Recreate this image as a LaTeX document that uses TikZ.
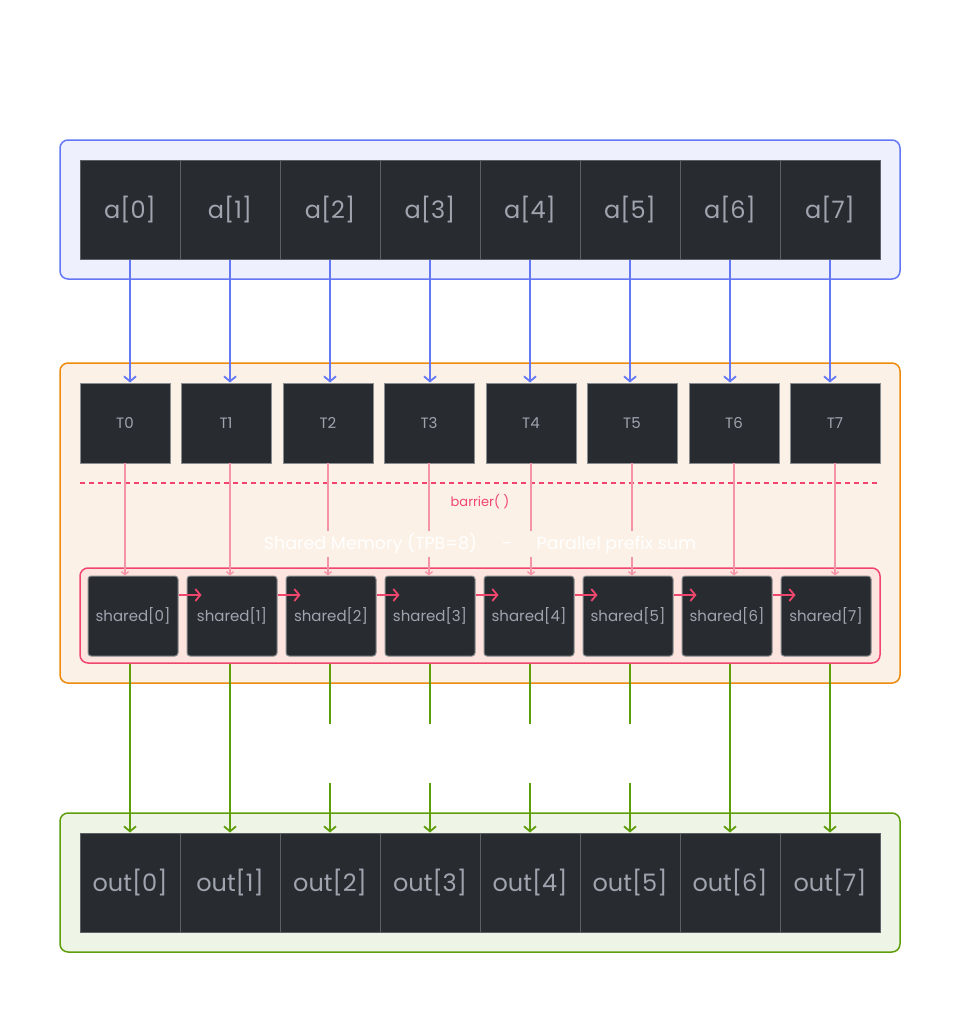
\documentclass[tikz,border=0pt]{standalone}
\usepackage{fontspec}
\setmainfont{Poppins}
\usetikzlibrary{arrows.meta}
\definecolor{blueln}{HTML}{6478F5}
\definecolor{bluebg}{HTML}{EEF0FD}
\definecolor{orangeln}{HTML}{EE8A0E}
\definecolor{orangebg}{HTML}{FCF1E6}
\definecolor{greenln}{HTML}{5F9E0B}
\definecolor{greenbg}{HTML}{EEF4E6}
\definecolor{pinkln}{HTML}{F0466E}
\definecolor{pinkbg}{HTML}{FDE4DE}
\definecolor{pinklight}{HTML}{F593A8}
\definecolor{cellfill}{HTML}{282C31}
\definecolor{cellborder}{HTML}{5D6167}
\definecolor{boxborder}{HTML}{8A8D90}
\definecolor{celltext}{HTML}{A0A4AF}
\tikzset{
  cell/.style={draw=cellborder, fill=cellfill, line width=1pt, minimum width=100pt, minimum height=99pt, inner sep=0pt, text=celltext, font=\fontsize{24}{28}\selectfont},
  tbox/.style={draw=boxborder, fill=cellfill, line width=1pt, minimum width=90pt, minimum height=80pt, inner sep=0pt, text=celltext, font=\fontsize{15}{18}\selectfont},
  sbox/.style={draw=boxborder, fill=cellfill, line width=1pt, rounded corners=3pt, minimum width=90pt, minimum height=80pt, inner sep=0pt, text=celltext, font=\fontsize{15}{18}\selectfont},
  group/.style={line width=1.5pt, rounded corners=8pt, inner sep=0pt},
  barrow/.style={draw=blueln, line width=1.8pt, -{Straight Barb[length=5pt,width=12pt]}},
  garrow/.style={draw=greenln, line width=1.8pt, -{Straight Barb[length=5pt,width=12pt]}},
  parrow/.style={draw=pinkln, line width=1.8pt, -{Straight Barb[length=5pt,width=12pt]}},
  plight/.style={draw=pinklight, line width=1.3pt, -{Straight Barb[length=3pt,width=7pt]}},
}
\begin{document}
\begin{tikzpicture}[x=1pt,y=-1pt]
\useasboundingbox (0,0) rectangle (960,1013);
% group boxes
\node[group, draw=blueln, fill=bluebg, minimum width=840pt, minimum height=139pt] (inbox) at (480,209.5) {};
\node[group, draw=orangeln, fill=orangebg, minimum width=840pt, minimum height=320pt] (blockbox) at (480,523) {};
\node[group, draw=greenln, fill=greenbg, minimum width=840pt, minimum height=139pt] (outbox) at (480,882.5) {};
\node[group, draw=pinkln, fill=pinkbg, minimum width=800pt, minimum height=95pt] (shbox) at (480,615.5) {};
% barrier
\coordinate (bl) at (80,483);
\coordinate (br) at (880,483);
\draw[pinkln, line width=1.5pt, dash pattern=on 5pt off 4pt] (bl) -- (br);
\node[text=pinkln, font=\fontsize{13}{15}\selectfont] (barrier) at (480,502) {barrier( )};
% cells
\foreach \i in {0,...,7} {
  \node[cell] (a\i) at (130+100*\i,209.5) {a[\i]};
  \node[cell] (o\i) at (130+100*\i,882.5) {out[\i]};
}
\foreach \i/\x in {0/125,1/226,2/328,3/429,4/531,5/632,6/734,7/835} {
  \node[tbox] (t\i) at (\x,423) {T\i};
}
\foreach \i/\x in {0/133,1/232,2/331,3/430,4/529,5/628,6/727,7/826} {
  \node[sbox] (s\i) at (\x,616) {shared[\i]};
}
% blue arrows
\foreach \i in {0,...,7} {
  \draw[barrow] (a\i.south) -- (a\i.south |- t\i.north);
}
% pink thin lines
\foreach \i/\x in {0/125,1/230,2/328,3/429,4/531,5/632,6/734,7/835} {
  \coordinate (tl\i) at (\x,463);
  \draw[plight] (tl\i) -- (tl\i |- s\i.north);
}
% label covering lines
\node[fill=orangebg, text=white, inner xsep=2pt, inner ysep=3pt, font=\fontsize{17.5}{20}\selectfont] (shlabel) at (480,544) {Shared Memory (TPB=8)\hspace{25pt}-\hspace{25pt}Parallel prefix sum};
% horizontal pink arrows
\foreach \i in {0,...,6} {
  \coordinate (hs\i) at ([yshift=21pt]s\i.east);
  \coordinate (he\i) at ([xshift=23pt]hs\i);
  \draw[parrow] (hs\i) -- (he\i);
}
% green arrows
\foreach \i in {0,1,6,7} {
  \draw[garrow] (o\i.north |- shbox.south) -- (o\i.north);
}
\foreach \i in {2,3,4,5} {
  \draw[garrow] (o\i.north |- shbox.south) -- node[pos=0.53, fill=white, minimum width=6pt, minimum height=59pt, inner sep=0pt] (gap\i) {} (o\i.north);
}
\end{tikzpicture}
\end{document}
